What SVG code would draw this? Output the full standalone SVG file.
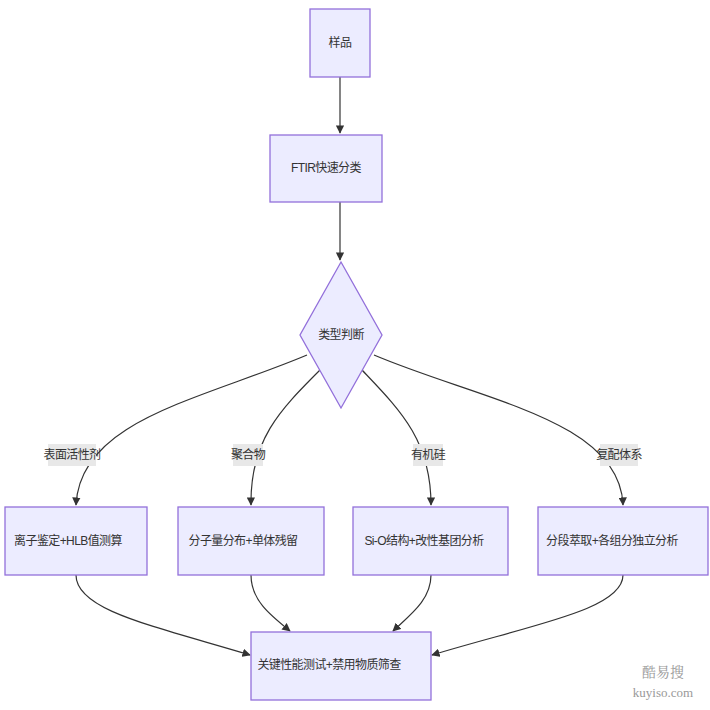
<svg xmlns="http://www.w3.org/2000/svg" width="710" height="710" viewBox="0 0 710 710">
<defs>
<style>
.n{fill:#ECECFF;stroke:#9370DB;stroke-width:1.3}
.t{font-family:"Liberation Sans","Noto Sans CJK SC",sans-serif;font-size:12px;fill:#333;text-anchor:middle;dominant-baseline:central;letter-spacing:-0.6px}
.e{fill:none;stroke:#333;stroke-width:1.2;marker-end:url(#a)}
.lb{fill:#e8e8e8}
</style>
<marker id="a" viewBox="0 0 10 10" refX="9" refY="5" markerWidth="7" markerHeight="7" orient="auto"><path d="M0,0L10,5L0,10z" fill="#333"/></marker>
</defs>
<rect width="710" height="710" fill="#fff"/>
<g id="edges">
<path class="e" d="M340,77V133"/>
<path class="e" d="M340,202V260"/>
<path class="e" d="M307,355C200,400 80,420 76,505"/>
<path class="e" d="M320,370C280,410 250,440 251,505"/>
<path class="e" d="M362,370C400,410 431,440 431,505"/>
<path class="e" d="M374,355C480,400 620,420 623,505"/>
<path class="e" d="M76,575C76,610 150,625 250,655"/>
<path class="e" d="M251,575C251,600 270,615 290,631"/>
<path class="e" d="M431,575C431,600 410,615 393,631"/>
<path class="e" d="M623,575C623,610 530,625 432,655"/>
<rect class="lb" x="48" y="444" width="48" height="22"/><text class="t" x="72" y="455">表面活性剂</text>
<rect class="lb" x="233" y="444" width="30" height="22"/><text class="t" x="248" y="455">聚合物</text>
<rect class="lb" x="413" y="444" width="30" height="22"/><text class="t" x="428" y="455">有机硅</text>
<rect class="lb" x="600" y="444" width="38" height="22"/><text class="t" x="619" y="455">复配体系</text>
</g>
<g id="n1"><rect class="n" x="310" y="9" width="60" height="68"/><text class="t" x="340" y="43">样品</text></g>
<g id="n2"><rect class="n" x="270" y="135" width="112" height="67"/><text class="t" x="326" y="168">FTIR快速分类</text></g>
<g id="n3"><polygon class="n" points="341,262 382,335 341,408 300,335"/><text class="t" x="341" y="335">类型判断</text></g>
<g id="n4"><rect class="n" x="5" y="507" width="142" height="68"/><text class="t" x="68" y="541">离子鉴定+HLB值测算</text></g>
<g id="n5"><rect class="n" x="178" y="507" width="146" height="68"/><text class="t" x="243" y="541">分子量分布+单体残留</text></g>
<g id="n6"><rect class="n" x="353" y="507" width="155" height="68"/><text class="t" x="424" y="541">Si-O结构+改性基团分析</text></g>
<g id="n7"><rect class="n" x="538" y="507" width="170" height="68"/><text class="t" x="612" y="541">分段萃取+各组分独立分析</text></g>
<g id="n8"><rect class="n" x="251" y="632" width="180" height="68"/><text class="t" x="329" y="665">关键性能测试+禁用物质筛查</text></g>
<text x="663" y="677" font-family="Noto Serif CJK SC,Noto Sans CJK SC,serif" font-size="14" fill="#999" text-anchor="middle">酷易搜</text>
<text x="663" y="697" font-family="Liberation Serif,serif" font-size="13" fill="#999" text-anchor="middle">kuyiso.com</text>
</svg>
